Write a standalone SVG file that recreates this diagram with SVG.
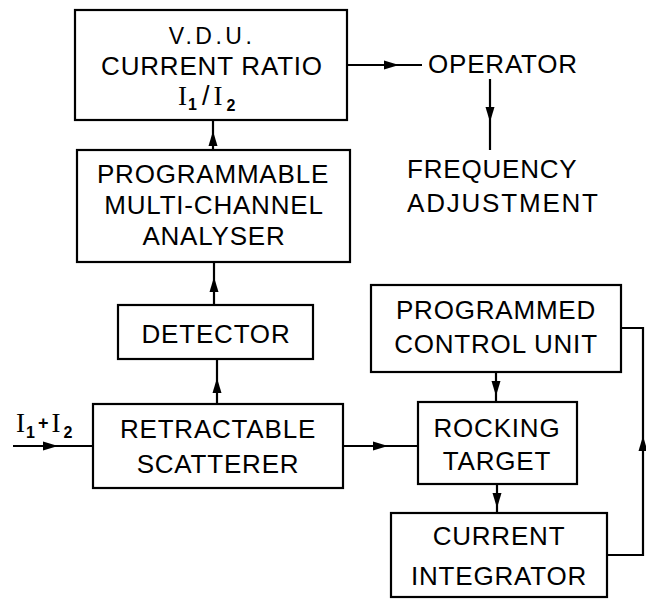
<svg xmlns="http://www.w3.org/2000/svg" width="646" height="600" viewBox="0 0 646 600">
<defs>
<style>
.box{fill:#fff;stroke:#000;stroke-width:2.2}
.t{font-family:"Liberation Sans",Arial,sans-serif;font-size:26px;fill:#000;text-anchor:middle;letter-spacing:0.8px}
.ts{font-family:"Liberation Sans",Arial,sans-serif;font-size:26px;fill:#000;letter-spacing:0.8px}
.sym{font-family:"Liberation Serif","Times New Roman",serif;font-size:27px;fill:#000}
.sub{font-family:"Liberation Sans",Arial,sans-serif;font-size:16px;font-weight:bold}
.ln{fill:none;stroke:#000;stroke-width:2.2}
.ah{fill:#000;stroke:none}
</style>
</defs>
<rect width="646" height="600" fill="#fff"/>
<g id="connectors">
<path class="ln" d="M13 446 H93"/>
<polygon class="ah" points="58,446 43,441.5 43,450.5"/>
<path class="ln" d="M217 404 V359"/>
<polygon class="ah" points="217,378 212.5,393 221.5,393"/>
<path class="ln" d="M214 305 V262"/>
<polygon class="ah" points="214,277 209.5,292 218.5,292"/>
<path class="ln" d="M213 150 V120"/>
<polygon class="ah" points="213,131 208.5,146 217.5,146"/>
<path class="ln" d="M346 65 H422"/>
<polygon class="ah" points="399,65 384,60.5 384,69.5"/>
<path class="ln" d="M490 79 V150"/>
<polygon class="ah" points="490,122 485.5,107 494.5,107"/>
<path class="ln" d="M343 446 H418"/>
<polygon class="ah" points="388,446 373,441.5 373,450.5"/>
<path class="ln" d="M496 372 V402"/>
<polygon class="ah" points="496,396 491.5,381 500.5,381"/>
<path class="ln" d="M497 484 V513"/>
<polygon class="ah" points="497,508 492.5,493 501.5,493"/>
<path class="ln" d="M607 555 H643 V328 H621"/>
<polygon class="ah" points="643,436 638.5,451 647.5,451"/>
</g>
<g id="vdu">
<rect class="box" x="75" y="10" width="272" height="110"/>
<text class="t" x="212" y="44" style="font-size:23px;letter-spacing:3.5px">V.D.U.</text>
<text class="t" x="212" y="75">CURRENT RATIO</text>
<text class="sym" x="178" y="105">I<tspan class="sub" dy="5" dx="1">1</tspan><tspan dy="-5" dx="5" font-family="Liberation Sans, sans-serif">/</tspan><tspan dx="4">I</tspan><tspan class="sub" dy="6" dx="4">2</tspan></text>
</g>
<g id="analyser">
<rect class="box" x="77" y="150" width="273" height="112"/>
<text class="t" x="213" y="183">PROGRAMMABLE</text>
<text class="t" x="214" y="214">MULTI-CHANNEL</text>
<text class="t" x="214" y="245">ANALYSER</text>
</g>
<g id="detector">
<rect class="box" x="118" y="305" width="195" height="54"/>
<text class="t" x="216" y="343">DETECTOR</text>
</g>
<g id="scatterer">
<rect class="box" x="93" y="404" width="250" height="84"/>
<text class="t" x="218" y="438">RETRACTABLE</text>
<text class="t" x="218" y="473">SCATTERER</text>
</g>
<g id="input">
<text class="sym" x="16" y="432">I<tspan class="sub" dy="6" dx="1">1</tspan><tspan dy="-9" dx="3" font-family="Liberation Sans, sans-serif" font-size="18" font-weight="bold">+</tspan><tspan dy="3" dx="3">I</tspan><tspan class="sub" dy="6" dx="3">2</tspan></text>
</g>
<g id="operator">
<text class="ts" x="428" y="73">OPERATOR</text>
</g>
<g id="frequency">
<text class="ts" x="407" y="178">FREQUENCY</text>
<text class="ts" x="407" y="212" style="letter-spacing:1.8px">ADJUSTMENT</text>
</g>
<g id="control">
<rect class="box" x="371" y="285" width="250" height="87"/>
<text class="t" x="496" y="319">PROGRAMMED</text>
<text class="t" x="496" y="353">CONTROL UNIT</text>
</g>
<g id="rocking">
<rect class="box" x="418" y="402" width="159" height="82"/>
<text class="t" x="497" y="437">ROCKING</text>
<text class="t" x="497" y="470">TARGET</text>
</g>
<g id="integrator">
<rect class="box" x="391" y="513" width="216" height="84"/>
<text class="t" x="499" y="545">CURRENT</text>
<text class="t" x="499" y="585">INTEGRATOR</text>
</g>
</svg>
